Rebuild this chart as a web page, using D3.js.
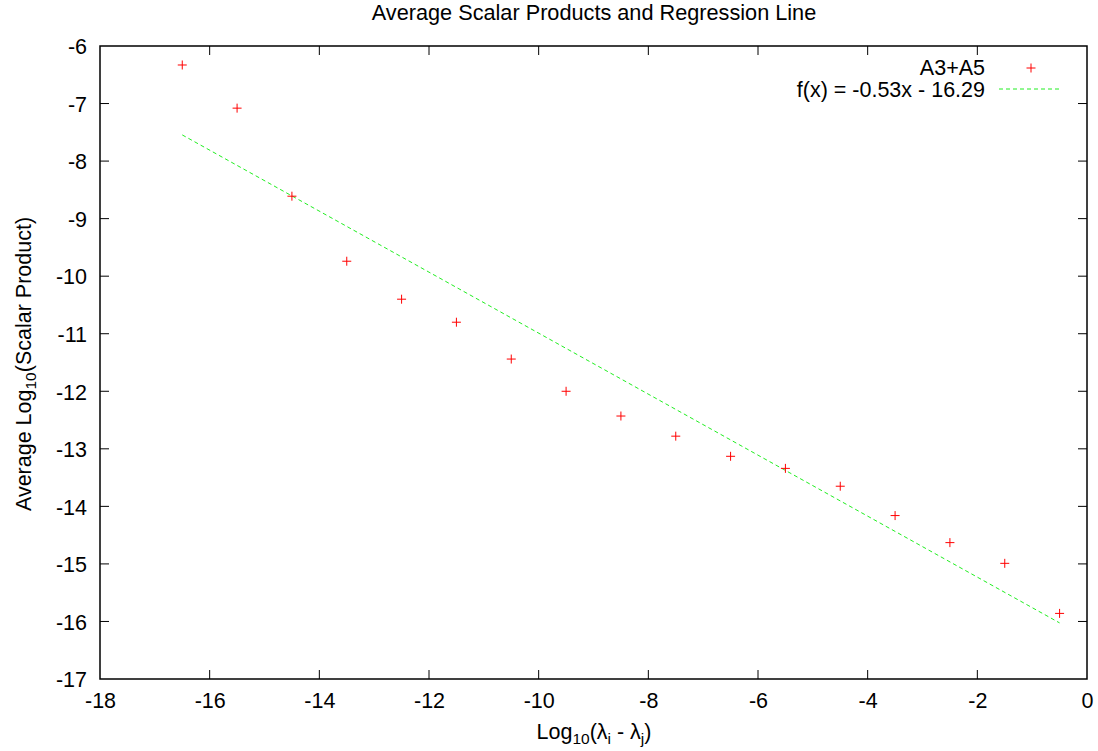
<!DOCTYPE html>
<html><head><meta charset="utf-8">
<script src="https://cdn.jsdelivr.net/npm/d3@7"></script>
<style>body{margin:0;background:#fff}svg{display:block}text{font-family:"Liberation Sans",Arial,sans-serif;fill:#000}</style>
</head><body>
<script>
const xs = [-16.5,-15.5,-14.5,-13.5,-12.5,-11.5,-10.5,-9.5,-8.5,-7.5,-6.5,-5.5,-4.5,-3.5,-2.5,-1.5,-0.5];
const ys = [-6.33,-7.08,-8.61,-9.74,-10.40,-10.80,-11.44,-12.00,-12.43,-12.78,-13.13,-13.34,-13.65,-14.16,-14.63,-14.99,-15.86];
const slope = -0.53, intercept = -16.29;
const xTicks = [-18,-16,-14,-12,-10,-8,-6,-4,-2,0];
const yTicks = [-6,-7,-8,-9,-10,-11,-12,-13,-14,-15,-16,-17];
const seriesName = "A3+A5";
const fitName = "f(x) = -0.53x - 16.29";

const W=1098,H=751, L=100,R=1087,T=46,B=679;
const svg=d3.select("body").append("svg").attr("width",W).attr("height",H);
const x=d3.scaleLinear().domain([-18,0]).range([L,R]);
const y=d3.scaleLinear().domain([-17,-6]).range([B,T]);
const tl=9, fs=21.5, sub=15.5;

const axB=d3.axisBottom(x).tickValues(xTicks).tickFormat(d=>String(d)).tickSize(0).tickPadding(14);
const gB=svg.append("g").attr("transform",`translate(0,${B})`).call(axB);
const axL=d3.axisLeft(y).tickValues(yTicks).tickFormat(d=>String(d)).tickSize(0).tickPadding(13);
const gL=svg.append("g").attr("transform",`translate(${L},0)`).call(axL);
[gB,gL].forEach(g=>{g.select(".domain").remove();g.selectAll("text").style("font-size",fs+"px");});
gL.selectAll("text").attr("dy","0.36em");
// tick marks (mirrored)
const tk=svg.append("g").attr("stroke","#000").attr("stroke-width",1);
xTicks.slice(1,-1).forEach(v=>{
  tk.append("line").attr("x1",x(v)).attr("x2",x(v)).attr("y1",B).attr("y2",B-tl);
  tk.append("line").attr("x1",x(v)).attr("x2",x(v)).attr("y1",T).attr("y2",T+tl);
});
yTicks.slice(1,-1).forEach(v=>{
  tk.append("line").attr("x1",L).attr("x2",L+tl).attr("y1",y(v)).attr("y2",y(v));
  tk.append("line").attr("x1",R).attr("x2",R-tl).attr("y1",y(v)).attr("y2",y(v));
});
svg.append("rect").attr("x",L).attr("y",T).attr("width",R-L).attr("height",B-T).attr("fill","none").attr("stroke","#000").attr("stroke-width",1.5);

// regression
svg.append("line").attr("x1",x(xs[0])).attr("y1",y(slope*xs[0]+intercept))
  .attr("x2",x(xs[xs.length-1])).attr("y2",y(slope*xs[xs.length-1]+intercept))
  .attr("stroke","#22ee22").attr("stroke-width",1).attr("stroke-dasharray","4,3");

// points
const m=4.5;
const pts=svg.append("g").attr("stroke","#ff0000").attr("stroke-width",1);
xs.forEach((v,i)=>{
  const px=x(v),py=y(ys[i]);
  pts.append("line").attr("x1",px-m).attr("x2",px+m).attr("y1",py).attr("y2",py);
  pts.append("line").attr("x1",px).attr("x2",px).attr("y1",py-m).attr("y2",py+m);
});

// legend
svg.append("text").attr("x",985).attr("y",75).attr("text-anchor","end").style("font-size",fs+"px").text(seriesName);
pts.append("line").attr("x1",1031-m).attr("x2",1031+m).attr("y1",68).attr("y2",68);
pts.append("line").attr("x1",1031).attr("x2",1031).attr("y1",68-m).attr("y2",68+m);
svg.append("text").attr("x",985).attr("y",97).attr("text-anchor","end").style("font-size",fs+"px").text(fitName);
svg.append("line").attr("x1",999).attr("x2",1062).attr("y1",89).attr("y2",89).attr("stroke","#22ee22").attr("stroke-dasharray","4,3");

// title
svg.append("text").attr("x",594).attr("y",20).attr("text-anchor","middle").style("font-size","21.7px").text("Average Scalar Products and Regression Line");

// x label
const xl=svg.append("text").attr("x",594).attr("y",739).attr("text-anchor","middle").style("font-size",fs+"px");
xl.append("tspan").text("Log");
xl.append("tspan").attr("dy",5).style("font-size",sub+"px").text("10");
xl.append("tspan").attr("dy",-5).text("(λ");
xl.append("tspan").attr("dy",5).style("font-size",sub+"px").text("i");
xl.append("tspan").attr("dy",-5).text(" - λ");
xl.append("tspan").attr("dy",5).style("font-size",sub+"px").text("j");
xl.append("tspan").attr("dy",-5).text(")");

// y label
const yl=svg.append("text").attr("transform","translate(31,364) rotate(-90)").attr("text-anchor","middle").style("font-size",fs+"px");
yl.append("tspan").text("Average Log");
yl.append("tspan").attr("dy",5).style("font-size",sub+"px").text("10");
yl.append("tspan").attr("dy",-5).text("(Scalar Product)");
</script>
</body></html>
